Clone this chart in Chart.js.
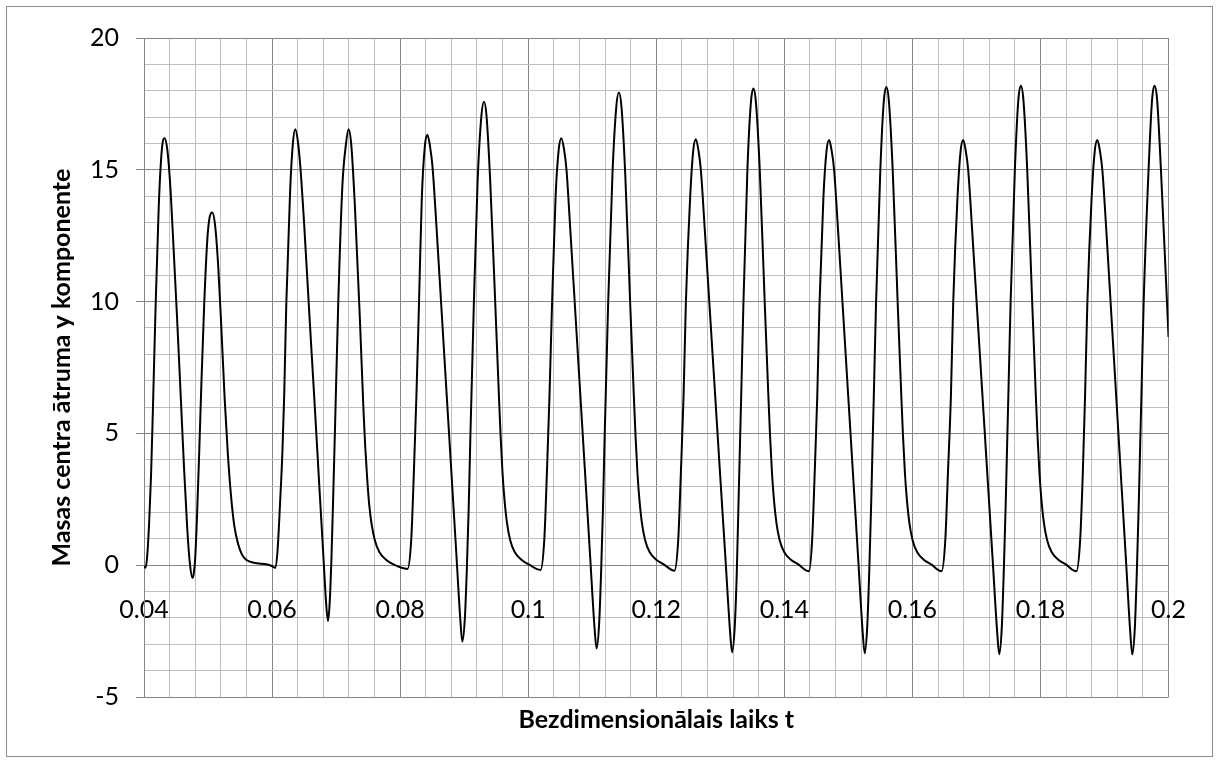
<!DOCTYPE html>
<html>
<head>
<meta charset="utf-8">
<title>Masas centra ātruma y komponente</title>
<script src="https://cdn.jsdelivr.net/npm/chart.js@4.4.1/dist/chart.umd.min.js"></script>
<style>
  html, body { margin: 0; padding: 0; background: #ffffff; }
  #wrap { position: relative; width: 1216px; height: 762px; }
  #frame { position: absolute; left: 6px; top: 6px; width: 1205px; height: 749px;
           border: 1px solid #8c8c8c; pointer-events: none; }
  canvas { display: block; }
</style>
</head>
<body>
<div id="wrap">
  <canvas id="chart" width="1216" height="762"></canvas>
  <div id="frame"></div>
</div>
<script>
// Time samples (dimensionless t), one block per oscillation cycle
const timeT = [
  // start-up
  0.04, 0.04025, 0.0405, 0.0408, 0.0411, 0.0414, 0.0418, 0.0423, 0.0428, 0.04322,
  0.04362, 0.04405, 0.04452, 0.0451, 0.0457, 0.04625, 0.04675, 0.04715, 0.04758,
  0.04778, 0.04798, 0.04826, 0.04862, 0.04895, 0.0494, 0.0499, 0.05025, 0.05065,
  0.0511, 0.0516, 0.0521, 0.0526, 0.0531, 0.0536, 0.0541, 0.0547, 0.0553, 0.056, 0.0572, 0.05927, 0.06005, 0.06047,
  // cycle 1
  0.06083, 0.06125, 0.06161, 0.0619, 0.06222, 0.06282, 0.06325, 0.06362, 0.06402, 0.06442,
  0.06502, 0.06585, 0.06665, 0.06745, 0.068, 0.06843, 0.06873, 0.06898, 0.06928, 0.06958,
  0.06985, 0.07033, 0.07098, 0.07155, 0.07195, 0.07235, 0.07294, 0.07372, 0.07429, 0.07455,
  0.07485, 0.07517, 0.07555, 0.07605, 0.07675, 0.07775, 0.07895, 0.08114,
  // cycle 2
  0.08174, 0.08214, 0.08254, 0.08294, 0.08338, 0.08386, 0.08426, 0.08466, 0.08506, 0.08566,
  0.08646, 0.08726, 0.08806, 0.08876, 0.08941, 0.08971, 0.09011, 0.09041, 0.09071, 0.09096,
  0.09151, 0.09209, 0.09269, 0.09309, 0.09349, 0.09408, 0.09486, 0.09543, 0.09569, 0.09599,
  0.09631, 0.09669, 0.09719, 0.09789, 0.09889, 0.10009, 0.10192,
  // cycle 3
  0.10252, 0.10292, 0.10332, 0.10372, 0.10428, 0.10478, 0.10518, 0.10558, 0.10598, 0.10658,
  0.10738, 0.10818, 0.10898, 0.10968, 0.11038, 0.11068, 0.11108, 0.11138, 0.11168, 0.11193,
  0.11248, 0.11316, 0.11376, 0.11416, 0.11456, 0.11515, 0.11593, 0.1165, 0.11676, 0.11706,
  0.11738, 0.11776, 0.11826, 0.11896, 0.11996, 0.12116, 0.12284,
  // cycle 4
  0.12343, 0.12384, 0.12426, 0.12462, 0.1253, 0.12578, 0.12618, 0.12658, 0.12696, 0.12758,
  0.12838, 0.12918, 0.12998, 0.13078, 0.13154, 0.13184, 0.13226, 0.13257, 0.13283, 0.13309,
  0.13326, 0.13361, 0.13423, 0.13477, 0.13517, 0.13557, 0.13616, 0.13694, 0.13751, 0.13777,
  0.13807, 0.13839, 0.13877, 0.13927, 0.13997, 0.14097, 0.14217, 0.14385,
  // cycle 5
  0.14435, 0.14474, 0.14514, 0.14549, 0.14611, 0.14659, 0.14699, 0.14739, 0.14777, 0.14839,
  0.14919, 0.14999, 0.15079, 0.15155, 0.15225, 0.15255, 0.15295, 0.15325, 0.15355, 0.1538,
  0.15397, 0.15432, 0.15499, 0.15553, 0.15593, 0.15633, 0.15692, 0.1577, 0.15827, 0.15853,
  0.15883, 0.15915, 0.15953, 0.16003, 0.16073, 0.16173, 0.16293, 0.16455,
  // cycle 6
  0.16514, 0.16555, 0.16601, 0.16637, 0.16705, 0.16753, 0.16793, 0.16833, 0.16871, 0.16933,
  0.17013, 0.17093, 0.17173, 0.17253, 0.17326, 0.17356, 0.17396, 0.17426, 0.17456, 0.17481,
  0.17498, 0.17533, 0.176, 0.17654, 0.17694, 0.17734, 0.17793, 0.17871, 0.17928, 0.17954,
  0.17984, 0.18016, 0.18054, 0.18104, 0.18174, 0.18274, 0.18394, 0.18561,
  // cycle 7 (cut at t = 0.2)
  0.1862, 0.18661, 0.18696, 0.18732, 0.188, 0.18848, 0.18888, 0.18928, 0.18966, 0.19028,
  0.19108, 0.19188, 0.19268, 0.19338, 0.19404, 0.19434, 0.19474, 0.19504, 0.19534, 0.19559,
  0.19576, 0.19611, 0.19688, 0.19742, 0.19782, 0.19822, 0.19881, 0.2
];

// Centre-of-mass velocity, y component, at the samples above
const velocityY = [
  // start-up
  -0.04, -0.1, 0.35, 1.6, 3.4, 6.0, 9.7, 13.6, 15.8, 16.2,
  15.8, 14.6, 12.5, 9.7, 6.6, 3.7, 1.4, 0.1, -0.48,
  -0.3, 0.2, 1.73, 4.27, 6.8, 9.9, 12.4, 13.2, 13.38,
  12.9, 11.3, 8.9, 6.3, 4.2, 2.6, 1.5, 0.8, 0.4, 0.2, 0.09, 0.03, -0.04, -0.1,
  // cycle 1
  0.47, 2.37, 4.27, 6.5, 9.9, 14.2, 16.0, 16.54, 16.1, 15.1,
  12.9, 9.4, 6.1, 2.7, 0.4, -1.4, -2.12, -1.5, 0.3, 2.9,
  5.4, 9.9, 14.4, 16.0, 16.54, 16.0, 13.6, 9.3, 5.8, 4.5,
  3.3, 2.3, 1.55, 0.95, 0.5, 0.22, 0.03, -0.14,
  // cycle 2
  1.0, 3.5, 6.4, 9.9, 13.9, 15.9, 16.33, 15.9, 15.1, 12.9,
  9.7, 6.5, 3.3, 0.5, -2.1, -2.9, -2.0, -0.2, 2.2, 4.8,
  9.9, 14.5, 17.05, 17.58, 17.05, 14.5, 9.9, 6.4, 4.9, 3.5,
  2.45, 1.6, 0.95, 0.5, 0.22, 0.03, -0.18,
  // cycle 3
  1.0, 3.5, 6.4, 9.9, 14.0, 15.8, 16.2, 15.8, 15.0, 12.7,
  9.5, 6.3, 3.1, 0.3, -2.45, -3.16, -2.2, -0.3, 2.2, 4.8,
  9.9, 14.85, 17.4, 17.93, 17.4, 14.85, 9.9, 6.4, 4.9, 3.5,
  2.45, 1.6, 0.95, 0.5, 0.22, 0.03, -0.21,
  // cycle 4
  0.97, 3.5, 6.4, 9.94, 14.0, 15.75, 16.16, 15.75, 15.0, 12.7,
  9.6, 6.5, 3.4, 0.35, -2.57, -3.3, -2.3, -0.3, 2.24, 4.77,
  6.4, 9.94, 15.0, 17.53, 18.08, 17.53, 15.0, 9.94, 6.4, 4.9,
  3.5, 2.45, 1.6, 0.95, 0.5, 0.22, 0.03, -0.23,
  // cycle 5
  1.0, 3.5, 6.4, 9.9, 14.0, 15.72, 16.13, 15.72, 15.0, 12.7,
  9.53, 6.36, 3.19, 0.18, -2.6, -3.34, -2.3, -0.3, 2.24, 4.77,
  6.4, 9.94, 15.0, 17.59, 18.14, 17.59, 15.0, 9.94, 6.4, 4.9,
  3.5, 2.45, 1.6, 0.95, 0.5, 0.22, 0.03, -0.23,
  // cycle 6
  0.97, 3.5, 6.4, 9.94, 14.0, 15.72, 16.13, 15.72, 15.0, 12.7,
  9.58, 6.46, 3.34, 0.22, -2.62, -3.38, -2.35, -0.3, 2.24, 4.77,
  6.4, 9.94, 15.0, 17.64, 18.19, 17.64, 15.0, 9.94, 6.4, 4.9,
  3.5, 2.45, 1.6, 0.95, 0.5, 0.22, 0.03, -0.23,
  // cycle 7
  0.97, 3.5, 6.4, 9.94, 14.0, 15.72, 16.13, 15.72, 15.0, 12.7,
  9.44, 6.18, 2.92, 0.07, -2.62, -3.38, -2.35, -0.3, 2.24, 4.77,
  6.4, 9.94, 15.0, 17.64, 18.19, 17.64, 15.0, 8.66
];

// Labelled (major) ticks; the grid also has 5 minor divisions per major step
const xMajorTicks = [0.04, 0.06, 0.08, 0.1, 0.12, 0.14, 0.16, 0.18, 0.2];
const yMajorTicks = [-5, 0, 5, 10, 15, 20];

const xTitle = 'Bezdimensionālais laiks t';
const yTitle = 'Masas centra ātruma y komponente';

const MAJOR_GRID = '#868686';
const MINOR_GRID = '#bfbfbf';
const FONT = 'Lato, "Open Sans", "DejaVu Sans", sans-serif';

const findMajor = (list, v) => list.find(t => Math.abs(t - v) < 1e-9);
const isMajorTick = (list, ctx) => !!(ctx.tick && findMajor(list, ctx.tick.value) !== undefined);

const points = timeT.map((t, i) => ({ x: t, y: velocityY[i] }));

new Chart(document.getElementById('chart'), {
  type: 'line',
  data: {
    datasets: [{
      data: points,
      borderColor: '#000000',
      borderWidth: 2,
      pointRadius: 0,
      fill: false,
      cubicInterpolationMode: 'monotone'
    }]
  },
  options: {
    responsive: false,
    animation: false,
    events: [],
    layout: { padding: { left: 0, top: 38, right: 45, bottom: 0 } },
    plugins: {
      legend: { display: false },
      tooltip: { enabled: false },
      title: {
        display: true,
        text: xTitle,
        position: 'bottom',
        fullSize: false,
        color: '#000000',
        font: { family: FONT, size: 25, weight: 'bold' },
        padding: { top: 8, bottom: 27 }
      }
    },
    scales: {
      x: {
        type: 'linear',
        position: { y: 0 },          // horizontal axis crosses at y = 0
        min: 0.04,
        max: 0.2,
        afterFit: (scale) => { scale.height = 0; },
        ticks: {
          stepSize: 0.004,
          autoSkip: false,
          maxRotation: 0,
          minRotation: 0,
          padding: 30,
          color: '#000000',
          font: { family: FONT, size: 25 },
          callback: (v) => {
            const m = findMajor(xMajorTicks, v);
            return m === undefined ? '' : String(m);
          }
        },
        grid: {
          drawTicks: false,
          lineWidth: 1,
          color: (ctx) => isMajorTick(xMajorTicks, ctx) ? MAJOR_GRID : MINOR_GRID
        },
        border: { display: false }
      },
      y: {
        type: 'linear',
        position: 'left',
        min: -5,
        max: 20,
        afterFit: (scale) => { scale.width = 144; },
        ticks: {
          stepSize: 1,
          autoSkip: false,
          padding: 17,
          color: '#000000',
          font: { family: FONT, size: 25 },
          callback: (v) => {
            const m = findMajor(yMajorTicks, v);
            return m === undefined ? '' : String(m);
          }
        },
        grid: {
          drawTicks: true,
          tickLength: 8,
          lineWidth: 1,
          color: (ctx) => isMajorTick(yMajorTicks, ctx) ? MAJOR_GRID : MINOR_GRID,
          tickColor: (ctx) => isMajorTick(yMajorTicks, ctx) ? MAJOR_GRID : 'rgba(0,0,0,0)'
        },
        border: { display: true, color: MAJOR_GRID, width: 1 },
        title: {
          display: true,
          text: yTitle,
          color: '#000000',
          font: { family: FONT, size: 25, weight: 'bold' },
          padding: { top: 47, bottom: 0 }
        }
      }
    }
  }
});
</script>
</body>
</html>
